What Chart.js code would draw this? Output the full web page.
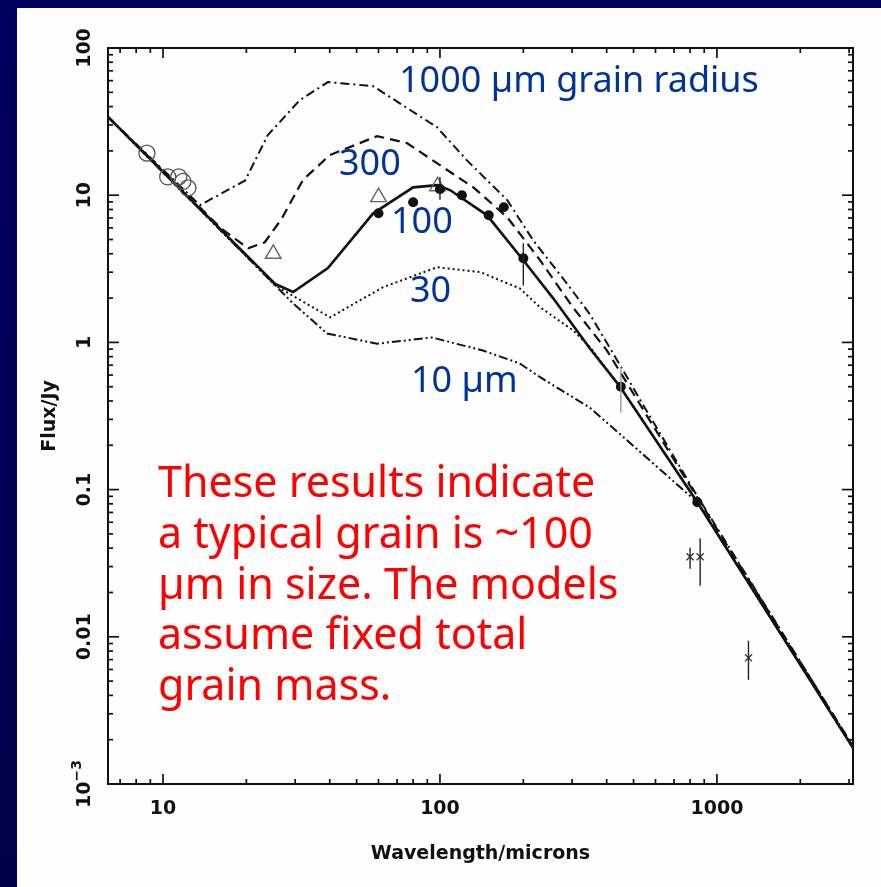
<!DOCTYPE html>
<html lang="en">
<head>
<meta charset="UTF-8">
<title>Grain radius models</title>
<script src="https://cdn.jsdelivr.net/npm/chart.js@4"></script>
<style>
    html, body { margin: 0; padding: 0; }
    body {
        width: 881px;
        height: 887px;
        position: relative;
        overflow: hidden;
        background: linear-gradient(#00005f, #00004a);
    }
    #panel {
        position: absolute;
        left: 17px;
        top: 8px;
        width: 864px;
        height: 879px;
        background: #fefefe;
    }
    #sed { display: block; }
</style>
</head>
<body>
<div id="panel"><canvas id="sed" width="864" height="879"></canvas></div>
<script>
// model spectra, one per grain radius (wavelength in microns, flux in Jy)
const lam1000 = [6.33, 13.6, 19.8, 23.9, 31.2, 39.4, 57.3, 97.5, 125, 175, 217, 287, 348, 447, 527, 850, 3100];
const flux1000 = [34, 8.55, 12.6, 25.6, 44.3, 58.7, 55.1, 29.0, 17.3, 9.25, 4.94, 2.52, 1.55, 0.70, 0.41, 0.09, 0.0018];

const lam300 = [6.33, 16.3, 20.3, 23.3, 26.9, 32, 40, 59.3, 76, 97.5, 132, 175, 230, 302, 401, 527, 850, 3100];
const flux300 = [34, 5.9, 4.36, 4.79, 6.98, 12.7, 18.7, 25.2, 22.6, 16.5, 11.3, 7.08, 3.61, 1.73, 0.88, 0.38, 0.088, 0.0018];

const lam100 = [6.33, 25.4, 29.5, 39.4, 57.3, 80, 98, 109, 148, 198, 256, 348, 447, 850, 3100];
const flux100 = [34, 2.5, 2.2, 3.2, 7.5, 11.3, 11.7, 10.8, 7.3, 3.7, 2.0, 0.91, 0.5, 0.082, 0.00176];

const lam30 = [6.33, 25.4, 40.1, 62.3, 97.5, 140, 175, 194, 230, 302, 348, 447, 850, 3100];
const flux30 = [34, 2.44, 1.48, 2.37, 3.24, 3.0, 2.52, 2.33, 1.73, 1.21, 0.93, 0.5, 0.082, 0.00176];

const lam10 = [6.33, 29.5, 39.1, 59.3, 93.5, 143, 194, 230, 348, 850, 3100];
const flux10 = [34, 1.84, 1.15, 0.98, 1.08, 0.88, 0.72, 0.58, 0.36, 0.082, 0.00176];

// measurements
const groundLam = [8.75, 10.4, 11.4, 11.8, 12.3];
const groundFlux = [19.3, 13.3, 13.3, 12.4, 11.2];

const irasLam = [25, 60, 98];
const irasFlux = [4.0, 9.7, 11.5];

const isoLam = [60, 80, 100, 120, 150, 170, 200, 450, 850];
const isoFlux = [7.55, 8.96, 11.0, 10.0, 7.31, 8.29, 3.73, 0.50, 0.082];
const isoLow = [null, null, 9.3, null, null, null, 2.44, 0.334, null];
const isoHigh = [null, null, 13.3, null, null, null, 4.71, 0.68, null];

const mmLam = [800, 870, 1300];
const mmFlux = [0.035, 0.035, 0.0072];
const mmLow = [0.029, 0.0222, 0.0051];
const mmHigh = [0.0403, 0.0465, 0.0094];

// axes
const xMin = 6.33, xMax = 3100;
const yMin = 0.001, yMax = 100;
const xMajor = [10, 100, 1000];
const xMajorLabels = ['10', '100', '1000'];
const yMajor = [0.001, 0.01, 0.1, 1, 10, 100];
const yMajorLabels = ['10^-3', '0.01', '0.1', '1', '10', '100'];

const curveLabels = [
    { text: '1000 µm grain radius', x: 382, y: 84 },
    { text: '300', x: 322, y: 167 },
    { text: '100', x: 374, y: 225 },
    { text: '30', x: 393, y: 294 },
    { text: '10 µm', x: 394, y: 384 }
];
const noteLines = [
    'These results indicate',
    'a typical grain is ~100',
    'µm in size. The models',
    'assume fixed total',
    'grain mass.'
];

const pts = (xs, ys) => xs.map((v, i) => ({ x: v, y: ys[i] }));

function minorTicks(lo, hi) {
    const out = [];
    for (let e = Math.floor(Math.log10(lo)); e <= Math.ceil(Math.log10(hi)); e++) {
        for (let m = 2; m <= 9; m++) {
            const v = m * Math.pow(10, e);
            if (v > lo && v < hi) out.push(v);
        }
    }
    return out;
}

function modelLine(xs, ys, dash, width) {
    return {
        data: pts(xs, ys),
        showLine: true,
        borderColor: '#111',
        borderWidth: width,
        borderDash: dash,
        pointRadius: 0,
        tension: 0,
        order: 2
    };
}

// frame with inward ticks on all four sides, plus axis text
const frameAxes = {
    id: 'frameAxes',
    afterDraw(chart) {
        const { ctx, chartArea: a, scales: { x, y } } = chart;
        const seg = (x1, y1, x2, y2) => { ctx.beginPath(); ctx.moveTo(x1, y1); ctx.lineTo(x2, y2); ctx.stroke(); };
        ctx.save();
        ctx.strokeStyle = '#111';
        ctx.lineWidth = 2;
        ctx.strokeRect(a.left, a.top, a.right - a.left, a.bottom - a.top);

        ctx.lineWidth = 1.7;
        minorTicks(xMin, xMax).forEach(v => {
            const px = x.getPixelForValue(v);
            seg(px, a.bottom, px, a.bottom - 5);
            seg(px, a.top, px, a.top + 5);
        });
        xMajor.forEach(v => {
            const px = x.getPixelForValue(v);
            seg(px, a.bottom, px, a.bottom - 10);
            seg(px, a.top, px, a.top + 10);
        });
        minorTicks(yMin, yMax).forEach(v => {
            const py = y.getPixelForValue(v);
            seg(a.left, py, a.left + 5, py);
            seg(a.right, py, a.right - 5, py);
        });
        yMajor.forEach(v => {
            const py = y.getPixelForValue(v);
            seg(a.left, py, a.left + 11, py);
            seg(a.right, py, a.right - 11, py);
        });

        ctx.fillStyle = '#111';
        ctx.font = 'bold 19px "DejaVu Sans", sans-serif';
        ctx.textBaseline = 'alphabetic';
        ctx.textAlign = 'center';
        xMajor.forEach((v, i) => {
            ctx.fillText(xMajorLabels[i], x.getPixelForValue(v), a.bottom + 30);
        });
        ctx.fillText('Wavelength/microns', (a.left + a.right) / 2, a.bottom + 75);

        // y labels read upwards
        yMajor.forEach((v, i) => {
            const py = y.getPixelForValue(v);
            const [base, sup] = yMajorLabels[i].split('^');
            ctx.save();
            ctx.translate(a.left - 18, py);
            ctx.rotate(-Math.PI / 2);
            ctx.font = 'bold 19px "DejaVu Sans", sans-serif';
            if (sup) {
                const wb = ctx.measureText(base).width;
                ctx.font = 'bold 14px "DejaVu Sans", sans-serif';
                const supText = sup.replace('-', '\u2212');
                const ws = ctx.measureText(supText).width;
                const start = -(wb + ws) / 2;
                ctx.textAlign = 'left';
                ctx.fillText(supText, start + wb, -9);
                ctx.font = 'bold 19px "DejaVu Sans", sans-serif';
                ctx.fillText(base, start, 0);
            } else {
                ctx.fillText(base, 0, 0);
            }
            ctx.restore();
        });
        ctx.save();
        ctx.translate(a.left - 53, (a.top + a.bottom) / 2);
        ctx.rotate(-Math.PI / 2);
        ctx.fillText('Flux/Jy', 0, 0);
        ctx.restore();
        ctx.restore();
    }
};

// vertical error bars for the measured points
const errorBars = {
    id: 'errorBars',
    afterDatasetsDraw(chart) {
        const { ctx, scales: { x, y } } = chart;
        const bars = (xs, lo, hi, colours) => {
            xs.forEach((v, i) => {
                if (lo[i] == null) return;
                const px = x.getPixelForValue(v);
                ctx.strokeStyle = colours ? colours[i] : '#222';
                ctx.beginPath();
                ctx.moveTo(px, y.getPixelForValue(lo[i]));
                ctx.lineTo(px, y.getPixelForValue(hi[i]));
                ctx.stroke();
            });
        };
        ctx.save();
        ctx.lineWidth = 1.4;
        bars(isoLam, isoLow, isoHigh, isoLam.map(v => v === 450 ? '#999' : '#222'));
        bars(mmLam, mmLow, mmHigh, null);
        ctx.restore();
    }
};

const annotations = {
    id: 'annotations',
    afterDraw(chart) {
        const { ctx } = chart;
        ctx.save();
        ctx.textAlign = 'left';
        ctx.textBaseline = 'alphabetic';
        ctx.fillStyle = '#003399';
        ctx.font = '36px "Noto Sans", sans-serif';
        curveLabels.forEach(l => ctx.fillText(l.text, l.x, l.y));
        ctx.fillStyle = '#ff0000';
        ctx.font = '43px "Noto Sans", sans-serif';
        noteLines.forEach((t, i) => ctx.fillText(t, 141, 489 + i * 50.8));
        ctx.restore();
    }
};

new Chart(document.getElementById('sed'), {
    type: 'scatter',
    data: {
        datasets: [
            {
                data: pts(isoLam, isoFlux),
                pointStyle: 'circle', pointRadius: 5,
                backgroundColor: '#111', borderColor: '#111', borderWidth: 0,
                order: 0
            },
            {
                data: pts(irasLam, irasFlux),
                pointStyle: 'triangle', pointRadius: 9,
                backgroundColor: 'rgba(255,255,255,0)', borderColor: '#666', borderWidth: 1.4,
                order: 1
            },
            {
                data: pts(groundLam, groundFlux),
                pointStyle: 'circle', pointRadius: 8,
                backgroundColor: 'rgba(255,255,255,0)', borderColor: '#555', borderWidth: 1.3,
                order: 1
            },
            {
                data: pts(mmLam, mmFlux),
                pointStyle: 'crossRot', pointRadius: 5,
                borderColor: '#333', borderWidth: 1.3,
                order: 1
            },
            modelLine(lam1000, flux1000, [9, 4, 2, 4], 2),
            modelLine(lam300, flux300, [10, 6], 2.2),
            modelLine(lam30, flux30, [2, 3], 2),
            modelLine(lam10, flux10, [9, 3, 2, 3, 2, 3], 2),
            modelLine(lam100, flux100, [], 2.6)
        ]
    },
    options: {
        responsive: false,
        animation: false,
        events: [],
        layout: { padding: { left: 0, top: 40, right: 28, bottom: 0 } },
        plugins: { legend: { display: false }, tooltip: { enabled: false } },
        scales: {
            x: {
                type: 'logarithmic', min: xMin, max: xMax,
                ticks: { display: false },
                grid: { display: false, drawTicks: false },
                border: { display: false },
                afterFit(s) { s.height = 103; }
            },
            y: {
                type: 'logarithmic', min: yMin, max: yMax,
                ticks: { display: false },
                grid: { display: false, drawTicks: false },
                border: { display: false },
                afterFit(s) { s.width = 91; }
            }
        }
    },
    plugins: [errorBars, frameAxes, annotations]
});
</script>
</body>
</html>
